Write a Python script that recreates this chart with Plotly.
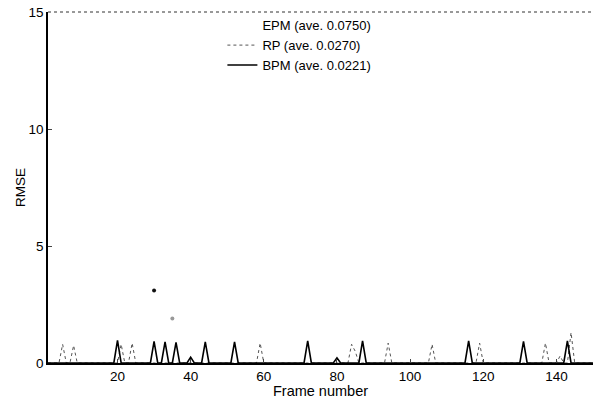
import plotly.graph_objects as go

# ---- data ----
bpm_x = [1, 19, 20, 21, 29, 30, 31, 32, 33, 34, 35, 36, 37, 39, 40, 41, 43, 44, 45,
         51, 52, 53, 71, 72, 73, 79, 80, 81, 86, 87, 88, 115, 116, 117, 130, 131, 132,
         142, 143, 144, 150]
bpm_y = [0, 0, 0.97, 0, 0, 0.92, 0, 0, 0.9, 0, 0, 0.88, 0, 0, 0.25, 0, 0, 0.9, 0,
         0, 0.9, 0, 0, 0.95, 0, 0, 0.22, 0, 0, 0.95, 0, 0, 0.95, 0, 0, 0.92, 0,
         0, 0.95, 0, 0]

rp_x = [1, 4, 5, 6, 7, 8, 9, 20, 21, 22, 23, 24, 25, 58, 59, 60, 83, 84, 85, 86,
        93, 94, 95, 105, 106, 107, 118, 119, 120, 136, 137, 138, 140, 141, 142,
        143, 144, 145, 150]
rp_y = [0, 0, 0.8, 0, 0, 0.75, 0, 0, 0.8, 0, 0, 0.85, 0, 0, 0.85, 0, 0, 0.8, 0.5, 0,
        0, 0.85, 0, 0, 0.8, 0, 0, 0.85, 0, 0, 0.85, 0, 0, 0.3, 0,
        0, 1.3, 0, 0]

epm_x = [30, 35]
epm_y = [3.1, 1.9]

names = ["EPM (ave. 0.0750)", "RP (ave. 0.0270)", "BPM (ave. 0.0221)"]
x_ticks = [20, 40, 60, 80, 100, 120, 140]
y_ticks = [0, 5, 10, 15]

FONT = "Liberation Sans, Arial, sans-serif"

fig = go.Figure()
fig.add_trace(go.Scatter(x=epm_x, y=epm_y, mode="markers", name=names[0],
                         showlegend=False, legendgroup="epm",
                         marker=dict(size=4, color=["#111", "#999"])))
# legend entry for EPM (its line style did not survive in the reference)
fig.add_trace(go.Scatter(x=[None], y=[None], mode="lines", name=names[0],
                         legendgroup="epm",
                         line=dict(color="rgba(0,0,0,0)", width=1)))
fig.add_trace(go.Scatter(x=rp_x, y=rp_y, mode="lines", name=names[1],
                         line=dict(color="#555", width=1, dash="dot")))
fig.add_trace(go.Scatter(x=bpm_x, y=bpm_y, mode="lines", name=names[2],
                         line=dict(color="#000", width=1.6)))

fig.update_layout(
    width=593, height=399,
    margin=dict(l=48, r=0, t=12, b=36),
    paper_bgcolor="white", plot_bgcolor="white",
    font=dict(family=FONT, size=13, color="#000"),
    showlegend=True,
    legend=dict(x=0.32, y=1.005, xanchor="left", yanchor="top",
                bgcolor="rgba(0,0,0,0)", borderwidth=0,
                font=dict(family=FONT, size=13, color="#000"),
                itemwidth=30, tracegroupgap=0),
    xaxis=dict(range=[1, 150], tickvals=x_ticks, ticks="inside", ticklen=4,
               showline=True, linecolor="#000", linewidth=1.5, showgrid=False,
               zeroline=False, tickfont=dict(size=13.5),
               title=dict(text="Frame number", standoff=0,
                          font=dict(size=14.5))),
    xaxis2=dict(range=[1, 150], overlaying="x", side="top", matches="x",
                tickvals=x_ticks, ticks="inside", ticklen=4, tickcolor="#444",
                showticklabels=False, showline=False, showgrid=False, zeroline=False),
    yaxis=dict(range=[0, 15], tickvals=y_ticks, ticks="inside", ticklen=4,
               showline=True, linecolor="#000", linewidth=1.5, showgrid=False,
               zeroline=False, tickfont=dict(size=13.5),
               title=dict(text="RMSE", standoff=0, font=dict(size=13.5))),
)
fig.add_shape(type="line", xref="paper", yref="paper", x0=0, x1=1, y0=1, y1=1,
              line=dict(color="#333", width=1, dash="dot"))

# remove the default page margin so the figure sits at the window's top-left
fig.write_html("out.html", config={"displayModeBar": False},
               post_script="document.body.style.margin='0';")
